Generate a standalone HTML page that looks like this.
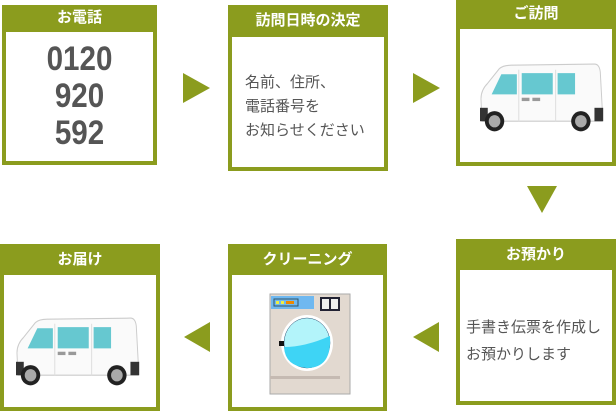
<!DOCTYPE html>
<html><head><meta charset="utf-8"><style>
body{margin:0;width:616px;height:411px;background:#fff;position:relative;overflow:hidden;font-family:"Liberation Sans","Noto Sans CJK JP",sans-serif;}
.b{position:absolute;border:4px solid #8b9c1e;box-sizing:border-box;background:#fff}
.h{background:#8b9c1e;color:#fff;font-weight:bold;font-size:15px;text-align:center;height:24px;line-height:20px;margin:-1px -1px 0}
svg{position:absolute}
</style></head><body>
<div class="b" style="left:2px;top:5px;width:155px;height:160px"><div class="h">お電話</div>
<div style="text-align:center;color:#555;font-weight:bold;font-size:34px;line-height:37px;margin-top:9px;transform:scaleX(0.87)">0120<br>920<br>592</div></div>
<div class="b" style="left:228px;top:5px;width:160px;height:166px"><div class="h" style="height:29px;line-height:25px">訪問日時の決定</div>
<div style="color:#555;font-size:15px;line-height:24px;padding:34px 0 0 13px">名前、住所、<br>電話番号を<br>お知らせください</div></div>
<div class="b" style="left:456px;top:0;width:160px;height:166px"><div class="h" style="height:26px;line-height:22px">ご訪問</div></div>
<div class="b" style="left:0;top:244px;width:160px;height:167px"><div class="h" style="height:28px;line-height:26px">お届け</div></div>
<div class="b" style="left:228px;top:244px;width:159px;height:167px"><div class="h" style="height:28px;line-height:26px">クリーニング</div></div>
<div class="b" style="left:456px;top:239px;width:160px;height:166px"><div class="h" style="height:28px;line-height:26px">お預かり</div>
<div style="color:#555;font-size:15px;line-height:27px;padding:44px 0 0 6px">手書き伝票を作成し<br>お預かりします</div></div>
<svg width="616" height="411" style="left:0;top:0">
<g fill="#8b9c1e">
<polygon points="183,73 210,88 183,103"/><polygon points="413,73 440,88 413,103"/>
<polygon points="527,186 557,186 542,213"/>
<polygon points="210,322 184,337 210,352"/><polygon points="439,322 413,337 439,352"/>
</g>
<defs><g id="van">
<path d="M8,18 L20,5 Q24,2 32,2 L118,1 Q123,1 124,8 L126,40 L126,52 L2,52 L1,32 Q1,24 8,18Z" fill="#fafafa" stroke="#ccc"/>
<path d="M12,28 L22,10 L38,10 L38,28Z" fill="#66c8d0"/>
<path d="M43,9 L75,9 L75,28 L43,28Z" fill="#66c8d0"/>
<path d="M80,9 L98,9 L98,28 L80,28Z" fill="#66c8d0"/>
<line x1="40" y1="6" x2="40" y2="52" stroke="#ddd"/><line x1="78" y1="6" x2="78" y2="52" stroke="#ddd"/>
<rect x="43" y="31" width="8" height="3" fill="#999"/><rect x="54" y="31" width="8" height="3" fill="#999"/>
<rect x="0" y="40" width="8" height="12" fill="#333"/><rect x="118" y="40" width="9" height="12" fill="#333"/>
<ellipse cx="15" cy="52" rx="10" ry="9" fill="#222"/><ellipse cx="15" cy="52" rx="6" ry="5.5" fill="#aaa"/>
<ellipse cx="104" cy="52" rx="10" ry="9" fill="#222"/><ellipse cx="104" cy="52" rx="6" ry="5.5" fill="#aaa"/>
</g></defs>
<use href="#van" transform="translate(480,63) scale(0.97,1.12)"/>
<use href="#van" transform="translate(16,317) scale(0.97,1.12)"/>
<rect x="270" y="294" width="80" height="100" fill="#e2d9d0" stroke="#aaa"/>
<rect x="271" y="296" width="43" height="13" fill="#6fb8f0"/>
<rect x="274" y="299" width="24" height="7" fill="none" stroke="#356"/>
<rect x="276" y="301" width="3" height="3" fill="#ee4"/><rect x="281" y="301" width="3" height="3" fill="#ee4"/><rect x="286" y="301" width="8" height="3" fill="#e80"/>
<rect x="320" y="297" width="20" height="14" fill="#223"/><rect x="322" y="299" width="7" height="10" fill="#eee"/><rect x="331" y="299" width="7" height="10" fill="#eee"/>
<ellipse cx="307" cy="343" rx="26" ry="28" fill="#fff"/>
<ellipse cx="307" cy="343" rx="23" ry="25" fill="#b3f4fa" stroke="#357" stroke-width=".5"/>
<path d="M284,347 Q305,347 330,336 Q332,368 307,368 Q285,366 284,347Z" fill="#3ed4f5"/>
<rect x="279" y="341" width="5" height="5" fill="#111"/>
<rect x="270" y="376" width="70" height="3" fill="#c5bab2"/>
</svg>
</body></html>
